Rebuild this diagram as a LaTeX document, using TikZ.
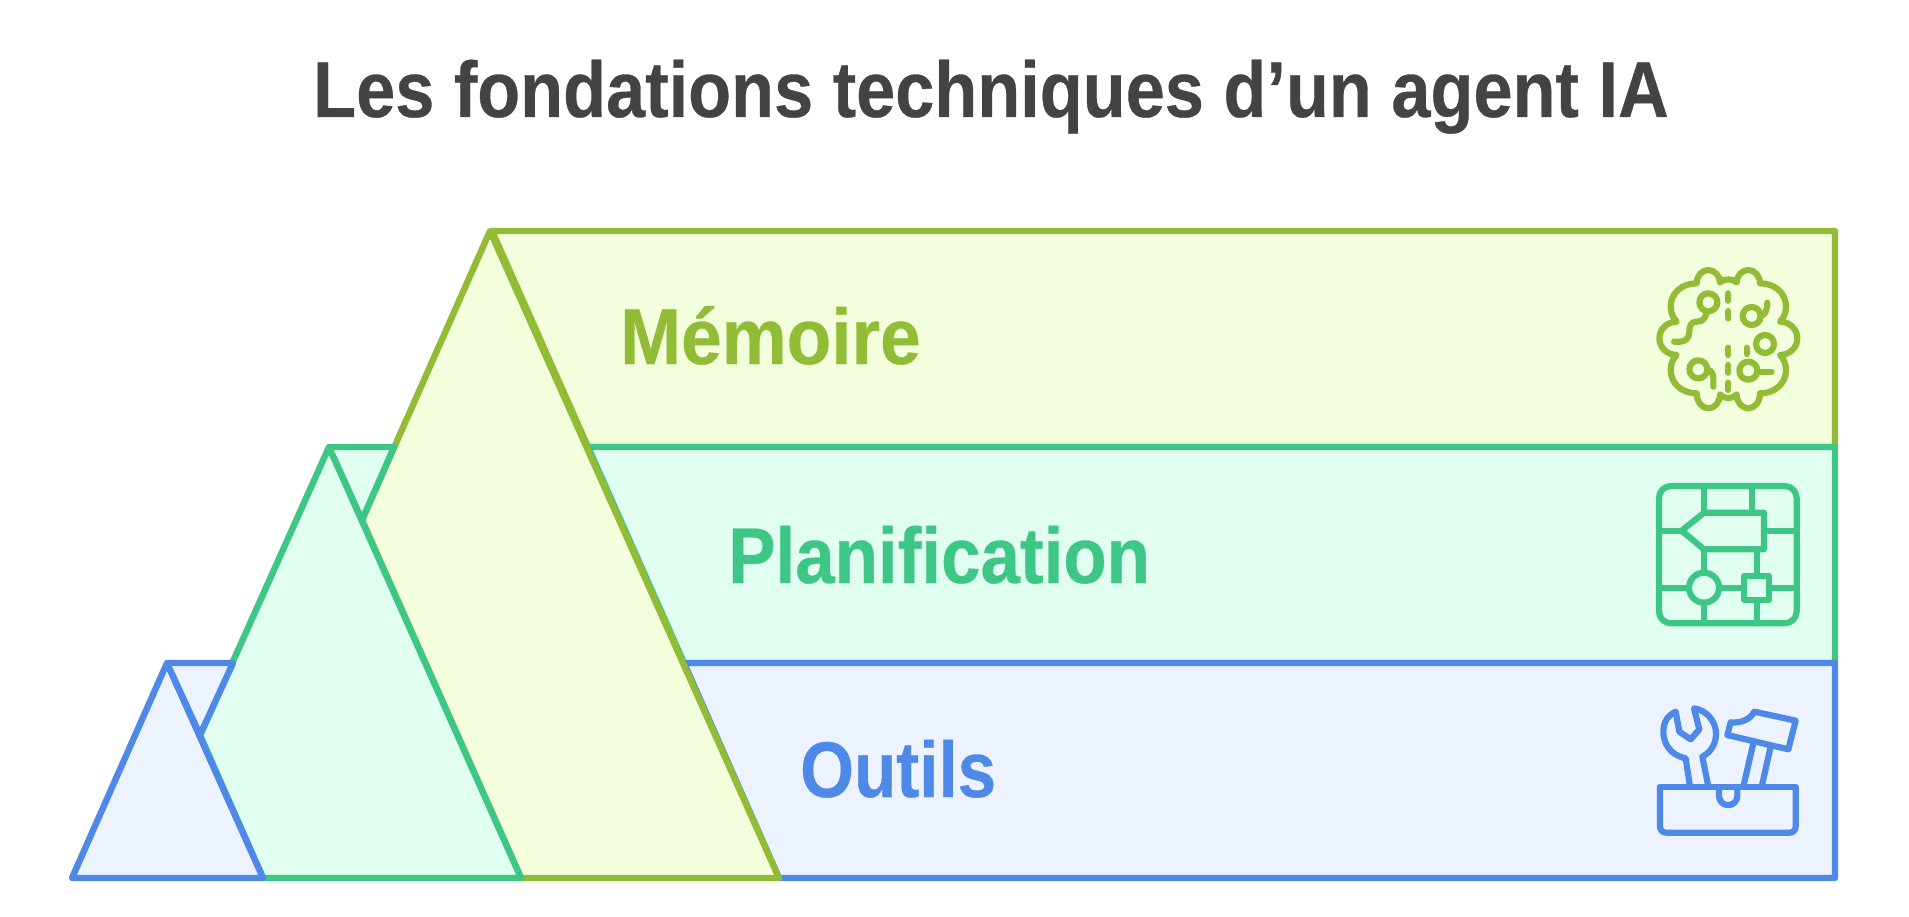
\documentclass[tikz,border=0pt]{standalone}
\usepackage{fontspec}
\setmainfont{Liberation Sans}
\usetikzlibrary{positioning}
\definecolor{titlegray}{RGB}{67, 67, 67}
\definecolor{memline}{RGB}{146, 188, 54}
\definecolor{memfill}{RGB}{243, 255, 220}
\definecolor{planline}{RGB}{61, 198, 133}
\definecolor{planfill}{RGB}{225, 255, 240}
\definecolor{outline}{RGB}{78, 137, 232}
\definecolor{outfill}{RGB}{236, 243, 255}
\tikzset{
    layer/.style={line width=6.4pt, line join=round, line cap=round},
    icon/.style={line width=6.2pt, line join=round, line cap=round},
    zoomed/.style={x=0.33333pt, y=-0.33333pt},
    bandtext/.style={inner sep=0pt, anchor=base west, font=\fontsize{79}{79}\selectfont\bfseries\addfontfeature{FakeStretch=#1, FakeBold=0.4}}
}
\begin{document}
\begin{tikzpicture}[x=1pt, y=-1pt]
    \useasboundingbox (0,0) rectangle (1909,917);
    \node[bandtext=0.89, text=titlegray] (title) at (313,117) {Les fondations techniques d’un agent IA};

    \coordinate (OutTop) at (167,663);
    \coordinate (OutLeft) at (72,878);
    \coordinate (OutRight) at (263,878);
    \coordinate (PlanTop) at (329,447);
    \coordinate (PlanRight) at (521,878);
    \coordinate (MemTop) at (490,231);
    \coordinate (MemRight) at (779,878);

    \filldraw[layer, draw=memline, fill=memfill] (492,231) -- (1835,231) -- (1835,447) -- (588,447) -- cycle;
    \filldraw[layer, draw=planline, fill=planfill] (588,447) -- (1835,447) -- (1835,663) -- (684,663) -- cycle;
    \filldraw[layer, draw=outline, fill=outfill] (684,663) -- (1835,663) -- (1835,878) -- (MemRight) -- cycle;

    \filldraw[layer, draw=memline, fill=memfill] (PlanRight) -- (362,520) -- (MemTop) -- (MemRight) -- cycle;
    \filldraw[layer, draw=planline, fill=planfill] (OutRight) -- (200,735) -- (PlanTop) -- (PlanRight) -- cycle;
    \filldraw[layer, draw=planline, fill=planfill] (PlanTop) -- (394,447) -- (362,520) -- cycle;
    \filldraw[layer, draw=outline, fill=outfill] (OutLeft) -- (OutTop) -- (OutRight) -- cycle;
    \filldraw[layer, draw=outline, fill=outfill] (OutTop) -- (233,663) -- (200,735) -- cycle;

    \node[bandtext=0.925, text=memline] (memoire) at (620,364) {Mémoire};
    \node[bandtext=0.898, text=planline] (planif) at (728,583) {Planification};
    \node[bandtext=0.875, text=outline] (outils) at (800,797) {Outils};

    \begin{scope}[shift={(1640,250)}, zoomed, icon, draw=memline]
        \draw (240,97) .. controls (240,78) and (224,60) .. (205,60) .. controls (186,60) and (170,78) .. (170,100)
            .. controls (125,100) and (92,130) .. (92,170) .. controls (92,190) and (100,205) .. (110,215)
            .. controls (82,215) and (58,237) .. (58,265) .. controls (58,293) and (82,315) .. (110,315)
            .. controls (100,325) and (92,340) .. (92,360) .. controls (92,400) and (125,430) .. (170,430)
            .. controls (170,455) and (186,475) .. (205,475) .. controls (224,475) and (240,457) .. (240,433)
            .. controls (250,448) and (280,448) .. (290,433)
            .. controls (290,457) and (306,475) .. (325,475) .. controls (344,475) and (360,455) .. (360,430)
            .. controls (405,430) and (438,400) .. (438,360) .. controls (438,340) and (430,325) .. (420,315)
            .. controls (448,315) and (472,293) .. (472,265) .. controls (472,237) and (448,215) .. (420,215)
            .. controls (430,205) and (438,190) .. (438,170) .. controls (438,130) and (405,100) .. (360,100)
            .. controls (360,78) and (344,60) .. (325,60) .. controls (306,60) and (290,78) .. (290,97)
            .. controls (280,85) and (250,85) .. (240,97);
        \draw (205,157) circle (27);
        \draw (200,188) .. controls (195,205) and (190,215) .. (170,215) .. controls (152,215) and (148,230) .. (148,245)
            .. controls (148,265) and (135,275) .. (120,275) -- (102,275);
        \draw (335,198) circle (27);
        \draw (362,198) .. controls (378,195) and (382,175) .. (382,158);
        \draw (375,282) circle (27);
        \draw (325,362) circle (27);
        \draw (352,365) -- (395,365);
        \draw (175,358) circle (27);
        \draw (202,358) .. controls (215,362) and (220,372) .. (220,385) -- (220,410);
        \draw (320,293) -- (320,312);
        \foreach \ya/\yb in {130/152, 183/205, 293/315, 345/368, 398/420} {
            \draw (265,\ya) -- (265,\yb);
        }
    \end{scope}

    \begin{scope}[shift={(1640,470)}, zoomed, icon, draw=planline]
        \draw[rounded corners=12pt] (57,48) rectangle (470,460);
        \draw (125,182) -- (192,128) -- (372,128) -- (372,238) -- (192,238) -- cycle;
        \draw (192,48) -- (192,128);
        \draw (336,48) -- (336,128);
        \draw (57,182) -- (125,182);
        \draw (372,182) -- (470,182);
        \draw (192,238) -- (192,308);
        \draw (352,238) -- (352,317);
        \draw (192,353) circle (45);
        \draw (313,317) rectangle (386,390);
        \draw (57,353) -- (147,353);
        \draw (237,353) -- (313,353);
        \draw (386,353) -- (470,353);
        \draw (192,398) -- (192,460);
        \draw (352,390) -- (352,460);
    \end{scope}

    \begin{scope}[shift={(1640,690)}, zoomed, icon, draw=outline]
        \draw[rounded corners=6pt] (60,292) -- (60,428) -- (467,428) -- (467,292);
        \draw (60,292) -- (467,292);
        \draw (237,292) -- (237,318) arc[start angle=180, end angle=0, radius=27.5] -- (292,292);
        \draw (150,290) -- (137,205) .. controls (90,195) and (70,160) .. (70,125)
            .. controls (70,95) and (85,75) .. (107,65) -- (118,125) -- (152,148) -- (178,118) -- (162,55)
            .. controls (200,60) and (228,95) .. (228,130) .. controls (228,160) and (215,185) .. (187,200) -- (205,290);
        \draw (310,290) -- (340,160);
        \draw (365,290) -- (392,170);
        \draw (262,135) -- (272,97) .. controls (300,100) and (330,90) .. (343,65) -- (467,92) -- (445,178) -- cycle;
    \end{scope}
\end{tikzpicture}
\end{document}
